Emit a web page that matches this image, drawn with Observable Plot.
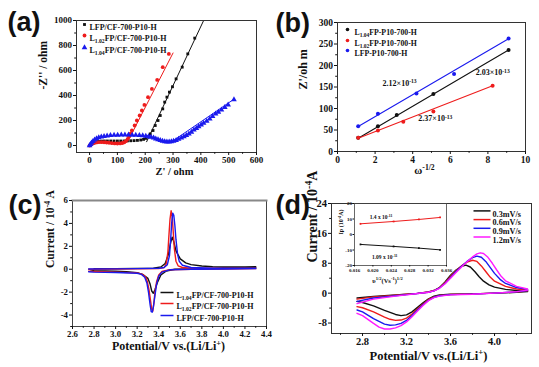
<!DOCTYPE html>
<html><head><meta charset="utf-8">
<script src="https://cdn.jsdelivr.net/npm/d3@7"></script>
<script src="https://cdn.jsdelivr.net/npm/@observablehq/plot@0.6"></script>
<style>
html,body{margin:0;padding:0;background:#fff;}
#c{position:relative;width:539px;height:367px;overflow:hidden;background:#fff;}
#c svg{position:absolute;left:0;top:0;}
#c svg text, #c svg tspan{font-family:"Liberation Serif","DejaVu Serif",serif;font-weight:bold;}
#c svg text.lbl{font-family:"Liberation Sans","DejaVu Sans",sans-serif;}
</style></head><body><div id="c"></div><script>
// ================= DATA =================
// (a) Nyquist plots  [Z', -Z'']
const aNames = ["LFP/CF-700-P10-H", "L_{1.02}FP/CF-700-P10-H", "L_{1.04}FP/CF-700-P10-H"];
const aLfp = [[0,0],[4,8],[8,15],[13,21],[19,26],[26,30],[34,33],[43,35],[53,36],[64,36],[76,36],[88,36],[100,36],[112,36],[124,36],[136,37],[148,38],[160,39],[172,41],[184,44],[194,49],[203,57],[210,70],[218,93],[228,120],[236,160],[246,200],[254,240],[263,293],[270,347],[278,387],[287,427],[298,470],[311,533],[333,627],[353,733],[378,859]];
const aL102 = [[0,0],[4,7],[8,13],[13,18],[19,22],[26,25],[34,27],[43,27],[52,26],[61,24],[70,22],[80,19],[90,17],[100,16],[110,17],[118,20],[125,26],[131,36],[137,52],[142,72],[147,95],[152,120],[162,160],[170,200],[180,240],[188,280],[197,325],[210,387],[224,453],[243,525],[263,627],[285,733]];
const aL104 = [[0,0],[3,10],[7,22],[12,34],[18,45],[25,55],[33,63],[42,69],[52,74],[63,78],[75,81],[88,83],[101,84],[114,85],[127,85],[140,85],[153,84],[166,83],[179,81],[191,79],[202,76],[212,72],[221,67],[230,61],[238,54],[246,47],[254,41],[262,36],[270,32],[278,29],[286,29],[294,31],[302,35],[311,42],[320,51],[330,61],[339,72],[348,82],[357,93],[366,108],[375,125],[384,138],[392,152],[401,165],[410,179],[421,196],[432,213],[442,233],[453,253],[463,268],[474,285],[486,305],[498,325],[519,368]];
const aLfpFit = [[205,30],[410,1000]];
const aL102Fit = [[138,35],[300,740]];
const aL104Fit = [[295,30],[520,372]];
const aXTicks = [0,100,200,300,400,500,600];
const aXMinor = [50,150,250,350,450,550];
const aYTicks = [0,200,400,600,800,1000];
const aYMinor = [100,300,500,700,900];

// (b) Z' vs omega^-1/2
const bNames = ["L_{1.04}FP-P10-700-H", "L_{1.02}FP-P10-700-H", "LFP-P10-700-H"];
const bL104X = [1.1, 2.15, 3.15, 5.1, 9.1];
const bL104Y = [32, 59, 85, 134, 236];
const bL102X = [1.1, 2.15, 3.5, 5.1, 8.25];
const bL102Y = [32, 49, 69, 93, 153];
const bLfpX = [1.1, 2.15, 4.2, 6.2, 9.1];
const bLfpY = [59, 88, 135, 180, 263];
const bL104Fit = [[1.1,31],[9.1,236]];
const bL102Fit = [[1.1,31],[8.25,153]];
const bLfpFit = [[1.1,58],[9.1,262]];
const bNotes = ["2.12×10^{-13}", "2.03×10^{-13}", "2.37×10^{-13}"];
const bNoteX = [2.4, 7.35, 4.3];
const bNoteY = [153, 177, 70];
const bXTicks = [0,2,4,6,8,10];
const bXMinor = [1,3,5,7,9];
const bYTicks = [0,50,100,150,200,250,300];
const bYMinor = [25,75,125,175,225,275];

// (c) CV curves  [V, I]
const cNames = ["L_{1.04}FP/CF-700-P10-H", "L_{1.02}FP/CF-700-P10-H", "LFP/CF-700-P10-H"];
const cL104 = [[2.8,0.05],[3.0,0.05],[3.2,0.07],[3.35,0.1],[3.42,0.2],[3.46,0.5],[3.49,1.3],[3.51,2.3],[3.525,2.8],[3.54,2.4],[3.56,1.6],[3.6,0.9],[3.65,0.55],[3.7,0.4],[3.8,0.28],[3.9,0.22],[4.0,0.2],[4.1,0.2],[4.2,0.2],[4.3,0.22],
  [4.3,0.15],[4.1,0.1],[3.9,0.05],[3.7,0.02],[3.55,0],[3.47,-0.15],[3.42,-0.5],[3.39,-1.1],[3.365,-1.8],[3.35,-2.1],[3.335,-1.9],[3.32,-1.3],[3.3,-0.8],[3.25,-0.45],[3.2,-0.3],[3.1,-0.22],[3.0,-0.18],[2.9,-0.15],[2.8,-0.12],[2.77,-0.05]];
const cL102 = [[2.75,0.0],[3.0,0.02],[3.2,0.03],[3.4,0.05],[3.45,0.15],[3.47,0.5],[3.485,1.5],[3.495,3],[3.505,4.4],[3.515,5.1],[3.525,4.6],[3.535,3.2],[3.545,1.8],[3.56,0.7],[3.58,0.3],[3.62,0.15],[3.7,0.1],[3.9,0.08],[4.1,0.08],[4.3,0.1],
  [4.3,0.05],[4.0,0.02],[3.7,0],[3.5,-0.05],[3.43,-0.2],[3.4,-0.5],[3.38,-1.1],[3.365,-2],[3.355,-3],[3.345,-3.65],[3.335,-3.5],[3.325,-2.8],[3.31,-1.8],[3.295,-1.1],[3.28,-0.7],[3.25,-0.45],[3.2,-0.32],[3.0,-0.25],[2.8,-0.2],[2.75,-0.18]];
const cLfp = [[2.75,0.02],[3.0,0.03],[3.2,0.05],[3.4,0.08],[3.45,0.15],[3.48,0.4],[3.5,1.2],[3.51,2.5],[3.52,4],[3.53,4.9],[3.54,4.7],[3.55,3.8],[3.56,2.6],[3.575,1.3],[3.59,0.7],[3.62,0.35],[3.7,0.15],[3.9,0.1],[4.1,0.08],[4.3,0.1],
  [4.3,0.05],[4.0,0.02],[3.7,0],[3.5,-0.05],[3.43,-0.25],[3.4,-0.6],[3.38,-1.3],[3.365,-2.3],[3.35,-3.3],[3.34,-3.75],[3.33,-3.7],[3.32,-3.1],[3.305,-2.0],[3.29,-1.2],[3.27,-0.7],[3.24,-0.45],[3.2,-0.35],[3.0,-0.28],[2.8,-0.25],[2.75,-0.22]];
const cXTicks = [2.6,2.8,3.0,3.2,3.4,3.6,3.8,4.0,4.2,4.4];
const cXMinor = [2.7,2.9,3.1,3.3,3.5,3.7,3.9,4.1,4.3];
const cYTicks = [-4,-2,0,2,4,6];
const cYMinor = [-5,-3,-1,1,3,5];

// (d) CV at different scan rates
const dNames = ["0.3mV/s", "0.6mV/s", "0.9mV/s", "1.2mV/s"];
const d03 = [[2.75,-1.3],[2.9,-0.9],[3.0,-0.7],[3.1,-0.5],[3.2,-0.3],[3.3,-0.05],[3.4,0.3],[3.45,0.7],[3.5,1.5],[3.55,3],[3.6,4.8],[3.65,6.2],[3.7,7.2],[3.74,7.5],[3.78,7],[3.82,5.8],[3.86,4.4],[3.9,3.2],[3.95,2.2],[4.0,1.6],[4.1,1],[4.2,0.7],[4.3,0.5],
  [4.3,0.4],[4.2,0.2],[4.0,0],[3.8,-0.2],[3.6,-0.3],[3.5,-0.5],[3.45,-0.8],[3.4,-1.5],[3.35,-2.6],[3.3,-3.8],[3.25,-5],[3.2,-5.8],[3.15,-6],[3.1,-5.7],[3.0,-4.6],[2.9,-3.4],[2.8,-2.5],[2.75,-2.2]];
const d06 = [[2.75,-1.6],[2.9,-1.0],[3.0,-0.8],[3.1,-0.55],[3.2,-0.3],[3.3,-0.05],[3.4,0.3],[3.45,0.7],[3.5,1.5],[3.55,2.8],[3.6,4.5],[3.65,6],[3.7,7.3],[3.75,8.3],[3.8,8.8],[3.84,8.5],[3.88,7.3],[3.92,5.8],[3.96,4.3],[4.0,3.2],[4.1,1.8],[4.2,1.1],[4.3,0.8],
  [4.3,0.6],[4.2,0.3],[4.0,0],[3.8,-0.2],[3.6,-0.35],[3.5,-0.6],[3.45,-1],[3.4,-1.7],[3.35,-2.9],[3.3,-4.2],[3.25,-5.6],[3.2,-6.7],[3.15,-7.2],[3.1,-7.3],[3.05,-7],[3.0,-6.4],[2.9,-5],[2.8,-3.9],[2.75,-3.6]];
const d09 = [[2.75,-2.2],[2.9,-1.3],[3.0,-1.0],[3.1,-0.7],[3.2,-0.4],[3.3,-0.1],[3.4,0.25],[3.45,0.6],[3.5,1.4],[3.55,2.6],[3.6,4.2],[3.65,5.8],[3.7,7.2],[3.75,8.5],[3.8,9.5],[3.84,9.9],[3.88,9.6],[3.92,8.5],[3.96,6.9],[4.0,5.3],[4.05,3.7],[4.1,2.6],[4.2,1.5],[4.3,1.0],
  [4.3,0.7],[4.2,0.35],[4.0,0],[3.8,-0.25],[3.6,-0.4],[3.5,-0.7],[3.45,-1.1],[3.4,-1.9],[3.35,-3.1],[3.3,-4.5],[3.25,-6],[3.2,-7.3],[3.15,-8.1],[3.1,-8.5],[3.05,-8.6],[3.0,-8.3],[2.9,-6.8],[2.8,-5],[2.75,-4.5]];
const d12 = [[2.75,-2.8],[2.9,-1.6],[3.0,-1.2],[3.1,-0.8],[3.2,-0.45],[3.3,-0.1],[3.4,0.25],[3.45,0.6],[3.5,1.3],[3.55,2.5],[3.6,4],[3.65,5.5],[3.7,7],[3.75,8.4],[3.8,9.7],[3.84,10.5],[3.87,10.8],[3.9,10.6],[3.94,9.6],[3.98,8],[4.02,6.2],[4.06,4.5],[4.1,3.3],[4.2,1.8],[4.3,1.1],
  [4.3,0.8],[4.2,0.4],[4.0,0],[3.8,-0.3],[3.6,-0.45],[3.5,-0.8],[3.45,-1.2],[3.4,-2],[3.35,-3.3],[3.3,-4.8],[3.25,-6.3],[3.2,-7.7],[3.15,-8.7],[3.1,-9.3],[3.05,-9.6],[3.0,-9.6],[2.95,-9.1],[2.9,-8.1],[2.8,-6],[2.75,-5.4]];
const dXTicks = [2.8,3.2,3.6,4.0];
const dXMinor = [2.6,3.0,3.4,3.8,4.2];
const dYTicks = [-8,0,8,16,24];
const dYMinor = [-4,4,12,20];
// (d) inset: peak current vs sqrt(scan rate)
const eX = [0.0173, 0.0245, 0.0300, 0.0346];
const eAnodic = [6.9, 8.4, 9.7, 11.0];
const eCathodic = [-6.4, -7.7, -8.8, -9.9];
const eNotes = ["1.4 x 10^{-11}", "1.09 x 10^{-11}"];
const eNoteX = [0.0193, 0.0198];
const eNoteY = [10.3, -15.5];
const eXTicks = [0.016,0.020,0.024,0.028,0.032,0.036];
const eYTicks = [-20,-10,0,10,20];

// ================= DRAWING =================
const W = 539, H = 367;
const SERIF = "Liberation Serif";
const SANS = "Liberation Sans";
const K = "#111111", RED = "#ee1c1c", BLUE = "#1a1aee", MAG = "#ff1aff";
const root = document.getElementById("c");
const fx = d => d[0], fy = d => d[1];
const num = d => String(d);
const fix1 = d => d.toFixed(1);

function lineSym() {
  return {draw(ctx, size) { const r = Math.sqrt(size / Math.PI); ctx.moveTo(-r, 0); ctx.lineTo(r, 0); }};
}
function txt(s, o) {
  return Plot.text([s], {text: d => d, fill: K, fontFamily: SERIF, fontWeight: "bold", ...o});
}
function axes(xt, xm, yt, ym, fs, xf, yf, pad = 1.5) {
  return [
    Plot.axisX({ticks: xm, tickSize: 1.8, tickFormat: () => "", label: null, anchor: "bottom"}),
    Plot.axisY({ticks: ym, tickSize: 1.8, tickFormat: () => "", label: null, anchor: "left"}),
    Plot.axisX({ticks: xt, tickSize: 3, tickPadding: pad, tickFormat: xf, fontSize: fs, label: null, anchor: "bottom"}),
    Plot.axisY({ticks: yt, tickSize: 3, tickPadding: 1.5, tickFormat: yf, fontSize: fs, label: null, anchor: "left"})
  ];
}
function panel(frame, xd, yd, marks) {
  const [L, T, R, B] = frame;
  const svg = Plot.plot({
    width: W, height: H,
    marginLeft: L, marginTop: T, marginRight: W - R, marginBottom: H - B,
    x: {domain: xd, label: null},
    y: {domain: yd, label: null},
    style: {background: "transparent", overflow: "visible", fontWeight: "bold", color: K},
    marks
  });
  root.appendChild(svg);
  return svg;
}

// ---------- (a) ----------
const aSets = [aLfp, aL102, aL104];
const aFits = [aLfpFit, aL102Fit, aL104Fit];
const aCol = [K, RED, BLUE];
const aSym = ["square", "circle", "triangle"];
const aRad = [1.6, 1.9, 2.1];
const aRows = [4, 15, 27];
panel([76, 20, 256, 152], [-47, 600], [-56, 1000], [
  ...aFits.map((f, i) => Plot.line(f, {x: fx, y: fy, stroke: aCol[i], strokeWidth: 1})),
  ...aSets.map((s, i) => Plot.dot(s, {x: fx, y: fy, symbol: aSym[i], r: aRad[i], fill: aCol[i], stroke: null})),
  Plot.frame({stroke: "#333"}),
  ...axes(aXTicks, aXMinor, aYTicks, aYMinor, 9, num, num),
  ...aNames.map((n, i) => Plot.dot([n], {frameAnchor: "top-left", dx: 8, dy: aRows[i], symbol: aSym[i], r: aRad[i], fill: aCol[i], stroke: null})),
  ...aNames.map((n, i) => txt(n, {frameAnchor: "top-left", dx: 13, dy: aRows[i], textAnchor: "start", fontSize: 8})),
  txt("-Z'' / ohm", {frameAnchor: "left", dx: -33, dy: 3, rotate: -90, fontSize: 11.5}),
  txt("Z' / ohm", {frameAnchor: "bottom", dx: 8, dy: 22, lineAnchor: "bottom", fontSize: 10.5}),
  txt("(a)", {frameAnchor: "top-left", dx: -69, dy: 10, textAnchor: "start", lineAnchor: "bottom", fontSize: 27, fontFamily: SANS})
]);

// ---------- (b) ----------
const bSets = [[bL104X, bL104Y], [bL102X, bL102Y], [bLfpX, bLfpY]];
const bFits = [bL104Fit, bL102Fit, bLfpFit];
const bCol = [K, RED, BLUE];
const bRows = [7, 18, 28];
panel([337, 22, 525, 151], [0, 10], [0, 300], [
  ...bFits.map((f, i) => Plot.line(f, {x: fx, y: fy, stroke: bCol[i], strokeWidth: 1.1})),
  ...bSets.map(([X, Y], i) => Plot.dot(X, {x: X, y: Y, r: 2, fill: bCol[i], stroke: null})),
  Plot.frame({stroke: "#333"}),
  ...axes(bXTicks, bXMinor, bYTicks, bYMinor, 9.5, num, num),
  Plot.text(bNotes, {x: bNoteX, y: bNoteY, text: d => d, textAnchor: "start", lineAnchor: "bottom", fontSize: 8, fill: K, fontFamily: SERIF, fontWeight: "bold"}),
  ...bNames.map((n, i) => Plot.dot([n], {frameAnchor: "top-left", dx: 10, dy: bRows[i], r: 1.8, fill: bCol[i], stroke: null})),
  ...bNames.map((n, i) => txt(n, {frameAnchor: "top-left", dx: 17, dy: bRows[i], textAnchor: "start", fontSize: 7.8})),
  txt("Z'/oh m", {frameAnchor: "left", dx: -34, dy: 2.5, rotate: -90, fontSize: 12}),
  txt("ω^{-1/2}", {frameAnchor: "bottom", dx: -7, dy: 22, lineAnchor: "bottom", fontSize: 11}),
  txt("(b)", {frameAnchor: "top-left", dx: -62, dy: 9, textAnchor: "start", lineAnchor: "bottom", fontSize: 27, fontFamily: SANS})
]);

// ---------- (c) ----------
const cSets = [cL104, cL102, cLfp];
const cCol = [K, RED, BLUE];
const cRows = [92, 103, 115];
panel([72, 200, 266, 326], [2.6, 4.4], [-5, 6], [
  ...cSets.map((s, i) => Plot.line(s, {x: fx, y: fy, stroke: cCol[i], strokeWidth: 1.4})),
  Plot.frame({stroke: "#444", strokeWidth: 1}),
  Plot.frame({anchor: "top", stroke: "#888", strokeWidth: 2}),
  ...axes(cXTicks, cXMinor, cYTicks, cYMinor, 8.8, fix1, num, 1),
  ...cNames.map((n, i) => Plot.dot([n], {frameAnchor: "top-left", dx: 94.5, dy: cRows[i], symbol: lineSym(), r: 6.5, fill: "none", stroke: cCol[i], strokeWidth: 1.5})),
  ...cNames.map((n, i) => txt(n, {frameAnchor: "top-left", dx: 104, dy: cRows[i], textAnchor: "start", fontSize: 8})),
  txt("Current / 10^{-4} A", {frameAnchor: "left", dx: -22, dy: 4.5, rotate: -90, fontSize: 11.5}),
  txt("Potential/V vs.(Li/Li^{+})", {frameAnchor: "bottom", dx: -1, dy: 23.5, lineAnchor: "bottom", fontSize: 12})
  , txt("(c)", {frameAnchor: "top-left", dx: -64, dy: 13, textAnchor: "start", lineAnchor: "bottom", fontSize: 27, fontFamily: SANS})
]);

// ---------- (d) ----------
const dSets = [d03, d06, d09, d12];
const dCol = [K, RED, BLUE, MAG];
const dRows = [7.4, 16.1, 24.8, 33.5];
panel([331, 203, 531, 333], [2.518, 4.336], [-10.8, 24], [
  ...dSets.map((s, i) => Plot.line(s, {x: fx, y: fy, stroke: dCol[i], strokeWidth: 1.4})),
  Plot.frame({stroke: "#333"}),
  ...axes(dXTicks, dXMinor, dYTicks, dYMinor, 10.5, fix1, num),
  ...dNames.map((n, i) => Plot.dot([n], {frameAnchor: "top-left", dx: 150.5, dy: dRows[i], symbol: lineSym(), r: 8.5, fill: "none", stroke: dCol[i], strokeWidth: 1.5})),
  ...dNames.map((n, i) => txt(n, {frameAnchor: "top-left", dx: 161, dy: dRows[i], textAnchor: "start", fontSize: 8.2})),
  txt("Current / 10^{-4}A", {frameAnchor: "left", dx: -19, dy: -6, rotate: -90, fontSize: 14}),
  txt("Potential/V vs.(Li/Li^{+})", {frameAnchor: "bottom", dx: -3, dy: 26, lineAnchor: "bottom", fontSize: 12.5}),
  txt("(d)", {frameAnchor: "top-left", dx: -56, dy: 10, textAnchor: "start", lineAnchor: "bottom", fontSize: 27, fontFamily: SANS})
]);

// ---------- (d) inset ----------
panel([354, 203, 446, 265], [0.016, 0.036], [-20, 20], [
  Plot.line(eX, {x: eX, y: eAnodic, stroke: RED, strokeWidth: 1}),
  Plot.line(eX, {x: eX, y: eCathodic, stroke: K, strokeWidth: 1}),
  Plot.dot(eX, {x: eX, y: eAnodic, r: 1, symbol: "square", fill: RED, stroke: null}),
  Plot.dot(eX, {x: eX, y: eCathodic, r: 1, symbol: "square", fill: K, stroke: null}),
  Plot.frame({stroke: "#444", strokeWidth: 0.8}),
  Plot.axisX({ticks: eXTicks, tickSize: 1.5, tickPadding: 1, tickFormat: d => d.toFixed(3), fontSize: 5, label: null, anchor: "bottom"}),
  Plot.axisY({ticks: eYTicks, tickSize: 1.5, tickPadding: 1, tickFormat: num, fontSize: 5, label: null, anchor: "left"}),
  Plot.text(eNotes, {x: eNoteX, y: eNoteY, text: d => d, textAnchor: "start", lineAnchor: "bottom", fontSize: 5.5, fill: K, fontFamily: SERIF, fontWeight: "bold"}),
  txt("Ip (10^{-4}A)", {frameAnchor: "left", dx: -13, dy: 0, rotate: -90, fontSize: 6}),
  txt("υ^{1/2}(Vs^{-1})^{1/2}", {frameAnchor: "bottom", dx: -13, dy: 17, lineAnchor: "bottom", fontSize: 6.5})
]);

// ---------- rich text: ^{..} superscripts, _{..} subscripts; panel-label font ----------
const NS = "http://www.w3.org/2000/svg";
root.querySelectorAll("text").forEach(t => {
  const s = t.textContent;
  if (/^\([a-d]\)$/.test(s)) { t.classList.add("lbl"); return; }
  if (!/[\^_]\{/.test(s)) return;
  const fs = parseFloat(getComputedStyle(t).fontSize) || 10;
  const parts = s.split(/([\^_]\{[^}]*\})/).filter(p => p.length);
  while (t.firstChild) t.removeChild(t.firstChild);
  let off = 0;
  for (const p of parts) {
    const ts = document.createElementNS(NS, "tspan");
    let target = 0, body = p, small = false;
    if (p.startsWith("^{")) { target = -0.33 * fs; body = p.slice(2, -1); small = true; }
    else if (p.startsWith("_{")) { target = 0.25 * fs; body = p.slice(2, -1); small = true; }
    const dy = target - off;
    if (dy) ts.setAttribute("dy", dy.toFixed(2));
    off = target;
    if (small) ts.setAttribute("font-size", (0.7 * fs).toFixed(2));
    ts.textContent = body;
    t.appendChild(ts);
  }
});
</script></body></html>
